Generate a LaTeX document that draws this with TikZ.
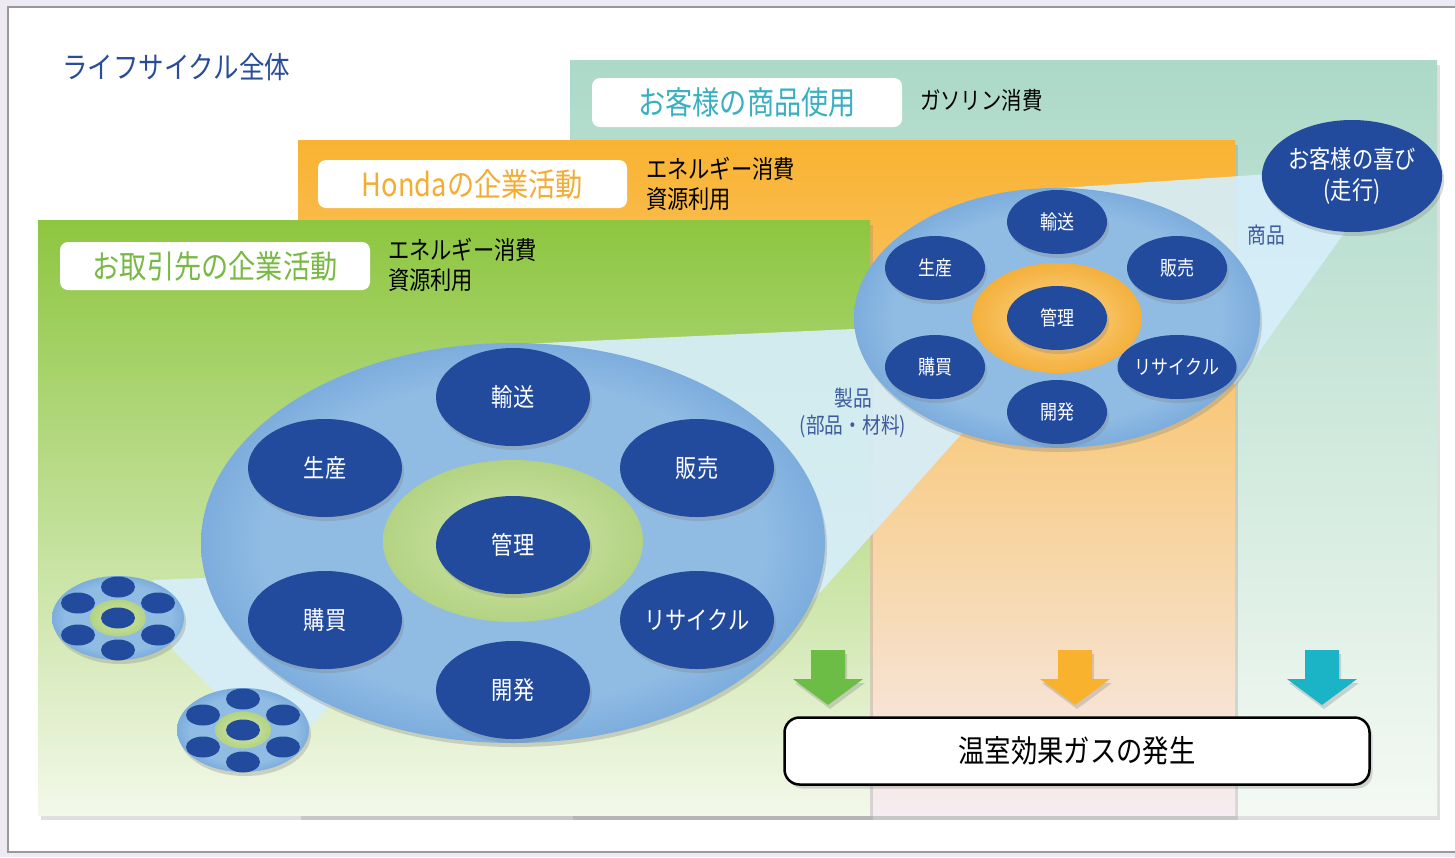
\documentclass[tikz,border=0pt]{standalone}
\usepackage{fontspec}
\setmainfont{Noto Sans CJK JP}
\newfontfamily\jp[FakeStretch=0.85]{Noto Sans CJK JP}
\usetikzlibrary{shapes.geometric,shadows}
\definecolor{lav}{HTML}{EDEAF3}
\definecolor{dkblue}{HTML}{224B9E}
\definecolor{ttlblue}{HTML}{2B4C9B}
\definecolor{bl1}{HTML}{90BCE4}
\definecolor{bl2}{HTML}{7DADDD}
\definecolor{conec}{HTML}{D6EEFA}
\definecolor{gtop}{HTML}{8DC640}
\definecolor{gmid}{HTML}{BEDC92}
\definecolor{gbot}{HTML}{F3F8EA}
\definecolor{otop}{HTML}{F9B331}
\definecolor{omid}{HTML}{FBD4A0}
\definecolor{obot}{HTML}{F6ECF1}
\definecolor{ttop}{HTML}{ACD9C8}
\definecolor{tmid}{HTML}{C8E6DA}
\definecolor{tbot}{HTML}{F4F9F3}
\definecolor{tealtxt}{HTML}{3AAFC2}
\definecolor{orgtxt}{HTML}{F4AC33}
\definecolor{grntxt}{HTML}{78B944}
\definecolor{ring1}{HTML}{D2E7AC}
\definecolor{ring2}{HTML}{B3D383}
\definecolor{oring1}{HTML}{FCD892}
\definecolor{oring2}{HTML}{F4B03C}
\definecolor{agreen}{HTML}{6CBD45}
\definecolor{aorange}{HTML}{F8B22E}
\definecolor{ateal}{HTML}{1BB4C6}
\definecolor{lbltxt}{HTML}{3D5A9E}
\pgfdeclareradialshading{rimblue}{\pgfpoint{0bp}{0bp}}{color(0bp)=(bl1); color(20bp)=(bl1); color(25bp)=(bl2); color(50bp)=(bl2)}
\tikzset{
  every node/.style={inner sep=0pt, outer sep=0pt},
  fsA/.style={font=\jp\fontsize{32}{36}\selectfont},
  fsB/.style={font=\jp\fontsize{25}{29}\selectfont},
  fsC/.style={font=\jp\fontsize{20}{24}\selectfont},
  fsD/.style={font=\jp\fontsize{25}{29}\selectfont},
  fsE/.style={font=\jp\fontsize{22}{26}\selectfont},
  sh/.style={drop shadow={opacity=0.3, shadow xshift=2pt, shadow yshift=-4pt}},
  rectsh/.style={drop shadow={opacity=0.25, shadow xshift=3pt, shadow yshift=-5pt}},
  lblbox/.style={rectangle, rounded corners=8pt, fill=white, fsA},
  dark/.style={ellipse, fill=dkblue, text=white, sh},
  bigdark/.style={dark, minimum width=154, minimum height=98, fsB},
  middark/.style={dark, minimum width=100, minimum height=64, fsC},
  rimell/.style={ellipse, shading=rimblue, sh},
  smalldark/.style={ellipse, fill=dkblue, minimum width=34, minimum height=21},
}
\newcommand\mygroup[3]{%
  \node[rimell, minimum width=132, minimum height=84] (#1) at (#2,#3) {};
  \node[ellipse, inner color=ring1, outer color=ring2, minimum width=56, minimum height=37] (#1r) at (#2,#3) {};
  \foreach \dx/\dy [count=\i] in {0/0,0/-31,-40/-15,40/-15,-40/17,40/17,0/32}
    \node[smalldark] (#1d\i) at (#2+\dx,#3+\dy) {};
}
\newcommand\blockarrow[3]{% name, x, color
  \coordinate (#1) at (#2,705);
  \fill[#3, sh] (#2-17,650) -- (#2+17,650) -- (#2+17,679) -- (#2+35,679) -- (#1) -- (#2-35,679) -- (#2-17,679) -- cycle;
}
\begin{document}
\begin{tikzpicture}[x=1pt,y=-1pt]
\useasboundingbox (0,0) rectangle (1455,857);
% background
\fill[lav] (0,0) rectangle (1455,857);
\filldraw[fill=white, draw=black!40, line width=1.5pt] (8,7) rectangle (1465,852);
\node[anchor=west, font=\jp\fontsize{30}{34}\selectfont, text=ttlblue] (title) at (62,67) {ライフサイクル全体};
% layers
\path[rectsh, top color=ttop, middle color=tmid, bottom color=tbot] (570,60) rectangle (1437,815);
\path[rectsh, top color=otop, middle color=omid, bottom color=obot] (298,140) rectangle (1235,815);
\path[rectsh, top color=gtop, middle color=gmid, bottom color=gbot] (38,220) rectangle (870,815);
% labels
\node[lblbox, minimum width=310, minimum height=49, text=tealtxt] (lb1) at (747,102.5) {お客様の商品使用};
\node[anchor=west, font=\jp\fontsize{24}{28}\selectfont] (gas) at (920,100) {ガソリン消費};
\node[lblbox, minimum width=309, minimum height=48, text=orgtxt] (lb2) at (472.5,184) {Hondaの企業活動};
\node[anchor=west, fsD, align=left] (en2) at (646,184) {エネルギー消費\\[1pt]資源利用};
\node[lblbox, minimum width=310, minimum height=48, text=grntxt] (lb3) at (215,266) {お取引先の企業活動};
\node[anchor=west, fsD, align=left] (en3) at (388,265) {エネルギー消費\\[1pt]資源利用};
% cones
\fill[conec, opacity=0.92] (520,344) -- (875,328) -- (965,430) -- (800,615) -- cycle;
\fill[conec, opacity=0.92] (1060,188) -- (1300,172) -- (1350,225) -- (1235,385) -- cycle;
\fill[conec, opacity=0.92] (153,580) -- (280,575) -- (355,680) -- (305,732) -- (215,692) -- (173,650) -- cycle;
\node[fsE, text=lbltxt, align=center] (prod) at (853,413) {製品\\[1pt](部品・材料)};
\node[fsE, text=lbltxt] (goods) at (1266,235) {商品};
% big ellipse
\node[rimell, minimum width=624, minimum height=400] (big) at (513,543) {};
\node[ellipse, inner color=ring1, outer color=ring2, minimum width=260, minimum height=162] (bigring) at (513,541) {};
\node[bigdark] (b1) at (513,545) {管理};
\node[bigdark] (b2) at (513,397) {輸送};
\node[bigdark] (b3) at (325,468) {生産};
\node[bigdark] (b4) at (697,468) {販売};
\node[bigdark] (b5) at (325,620) {購買};
\node[bigdark] (b6) at (697,620) {リサイクル};
\node[bigdark] (b7) at (513,690) {開発};
% honda ellipse
\node[rimell, minimum width=406, minimum height=260] (hon) at (1057,318) {};
\node[ellipse, inner color=oring1, outer color=oring2, minimum width=170, minimum height=110] (honring) at (1057,318) {};
\node[middark] (h1) at (1057,318) {管理};
\node[middark] (h2) at (1057,222) {輸送};
\node[middark] (h3) at (935,268) {生産};
\node[middark] (h4) at (1177,268) {販売};
\node[middark] (h5) at (935,367) {購買};
\node[middark] (h6) at (1177,367) {リサイクル};
\node[middark] (h7) at (1057,412) {開発};
% customer
\node[dark, minimum width=180, minimum height=112, fsB, align=center] (cust) at (1352,176) {お客様の喜び\\[2pt](走行)};
% small groups
\mygroup{s1}{118}{618}
\mygroup{s2}{243}{730}
% arrows
\blockarrow{a1}{828}{agreen}
\blockarrow{a2}{1075}{aorange}
\blockarrow{a3}{1322}{ateal}
% ghg box
\node[rectangle, rounded corners=15pt, draw=black, line width=2.5pt, fill=white, minimum width=585, minimum height=67, font=\jp\fontsize{31}{36}\selectfont, drop shadow={opacity=0.3, shadow xshift=3pt, shadow yshift=-4pt}] (ghg) at (1077,751) {温室効果ガスの発生};
\end{tikzpicture}
\end{document}
